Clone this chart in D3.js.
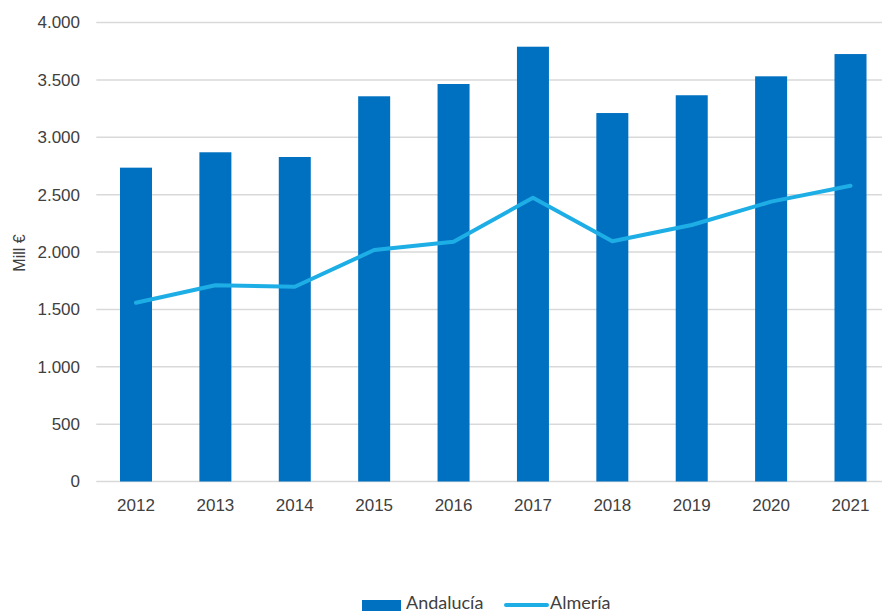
<!DOCTYPE html>
<html>
<head>
<meta charset="utf-8">
<script src="https://cdn.jsdelivr.net/npm/d3@7"></script>
<style>
  body { margin: 0; background: #fff; }
  svg { display: block; }
</style>
</head>
<body>
<div id="chart"></div>
<script>
const years = ["2012", "2013", "2014", "2015", "2016", "2017", "2018", "2019", "2020", "2021"];
const andalucia = [2735, 2869, 2828, 3357, 3464, 3789, 3211, 3366, 3531, 3725];
const almeria = [1558, 1710, 1697, 2017, 2090, 2473, 2093, 2235, 2439, 2578];
const yTicks = [0, 500, 1000, 1500, 2000, 2500, 3000, 3500, 4000];

const width = 882;
const height = 613;

const svg = d3.select("#chart")
    .append("svg")
    .attr("width", width)
    .attr("height", height);

const x = d3.scaleBand()
    .domain(years)
    .range([96.3, 890.2])
    .paddingInner(0.597)
    .paddingOuter(0.2985);

const y = d3.scaleLinear()
    .domain([0, 4000])
    .range([481.5, 22.5]);

const fmt = d => d3.format(",")(d).replace(/,/g, ".");

// gridlines
svg.append("g")
    .selectAll("line")
    .data(yTicks)
    .enter()
    .append("line")
    .attr("x1", 96.3)
    .attr("x2", 890.2)
    .attr("y1", d => y(d))
    .attr("y2", d => y(d))
    .attr("stroke", "#d9d9d9")
    .attr("stroke-width", 1.5);

// y tick labels
svg.append("g")
    .selectAll("text")
    .data(yTicks)
    .enter()
    .append("text")
    .attr("x", 80)
    .attr("y", d => y(d))
    .attr("dy", "0.35em")
    .attr("text-anchor", "end")
    .style("font-family", "'Liberation Sans', Arial, sans-serif")
    .style("font-size", "17px")
    .style("fill", "#404040")
    .text(fmt);

// x tick labels
svg.append("g")
    .selectAll("text")
    .data(years)
    .enter()
    .append("text")
    .attr("x", d => x(d) + x.bandwidth() / 2)
    .attr("y", 511)
    .attr("text-anchor", "middle")
    .style("font-family", "'Liberation Sans', Arial, sans-serif")
    .style("font-size", "17px")
    .style("fill", "#404040")
    .text(d => d);

// y axis title
svg.append("text")
    .attr("transform", "translate(25, 253) rotate(-90)")
    .attr("text-anchor", "middle")
    .style("font-family", "'Liberation Sans', Arial, sans-serif")
    .style("font-size", "16px")
    .style("fill", "#404040")
    .text("Mill €");

// bars
svg.append("g")
    .selectAll("rect")
    .data(years.map((yr, i) => ({ year: yr, value: andalucia[i] })))
    .enter()
    .append("rect")
    .attr("x", d => x(d.year))
    .attr("y", d => y(d.value))
    .attr("width", x.bandwidth())
    .attr("height", d => y(0) - y(d.value))
    .attr("fill", "#0070c0");

// line
const line = d3.line()
    .x(d => x(d.year) + x.bandwidth() / 2)
    .y(d => y(d.value));

svg.append("path")
    .datum(years.map((yr, i) => ({ year: yr, value: almeria[i] })))
    .attr("d", line)
    .attr("fill", "none")
    .attr("stroke", "#1eaee6")
    .attr("stroke-width", 4)
    .attr("stroke-linejoin", "round")
    .attr("stroke-linecap", "round");

// legend
const legend = svg.append("g");
legend.append("rect")
    .attr("x", 362)
    .attr("y", 600)
    .attr("width", 39)
    .attr("height", 11)
    .attr("fill", "#0070c0");
legend.append("text")
    .attr("x", 406)
    .attr("y", 609)
    .style("font-family", "Lato, 'Open Sans', sans-serif")
    .style("font-size", "18px")
    .style("fill", "#404040")
    .text("Andalucía");
legend.append("line")
    .attr("x1", 506)
    .attr("x2", 547)
    .attr("y1", 605)
    .attr("y2", 605)
    .attr("stroke", "#1eaee6")
    .attr("stroke-width", 4)
    .attr("stroke-linecap", "round");
legend.append("text")
    .attr("x", 550)
    .attr("y", 609)
    .style("font-family", "Lato, 'Open Sans', sans-serif")
    .style("font-size", "18px")
    .style("fill", "#404040")
    .text("Almería");
</script>
</body>
</html>
